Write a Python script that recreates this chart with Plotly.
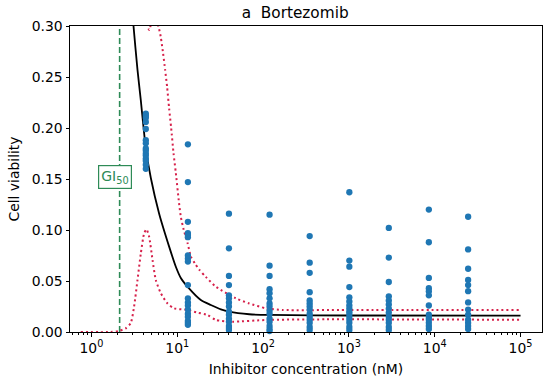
import numpy as np
import plotly.graph_objects as go

# ---------------- data ----------------
conc = [4.3, 13.3, 40.0, 119, 349, 1012, 2917, 8540, 24500]  # nM
viab_c1 = [0.214, 0.212, 0.210, 0.206, 0.199, 0.188, 0.185, 0.180, 0.178, 0.175, 0.173, 0.170, 0.168, 0.164, 0.160]
viab_c2 = [0.184, 0.147, 0.108, 0.097, 0.095, 0.093, 0.075, 0.072, 0.069, 0.046, 0.033, 0.029, 0.026, 0.022, 0.018, 0.015, 0.011, 0.009, 0.007]
viab_c3 = [0.116, 0.082, 0.055, 0.046, 0.036, 0.033, 0.029, 0.025, 0.020, 0.017, 0.013, 0.010, 0.006, 0.004, 0.002]
viab_c4 = [0.115, 0.065, 0.055, 0.042, 0.038, 0.033, 0.028, 0.025, 0.021, 0.018, 0.013, 0.010, 0.006, 0.003, 0.001]
viab_c5 = [0.094, 0.068, 0.058, 0.039, 0.031, 0.028, 0.025, 0.022, 0.018, 0.015, 0.012, 0.009, 0.005, 0.002]
viab_c6 = [0.137, 0.070, 0.064, 0.044, 0.034, 0.030, 0.026, 0.023, 0.020, 0.018, 0.015, 0.012, 0.009, 0.005, 0.002]
viab_c7 = [0.102, 0.073, 0.049, 0.035, 0.031, 0.027, 0.023, 0.019, 0.015, 0.012, 0.009, 0.005, 0.002]
viab_c8 = [0.120, 0.088, 0.053, 0.043, 0.040, 0.036, 0.026, 0.017, 0.014, 0.012, 0.009, 0.006, 0.003]
viab_c9 = [0.113, 0.081, 0.062, 0.051, 0.046, 0.040, 0.029, 0.022, 0.017, 0.012, 0.009, 0.006, 0.003]
viab_groups = [viab_c1, viab_c2, viab_c3, viab_c4, viab_c5, viab_c6, viab_c7, viab_c8, viab_c9]

fit_conc = [2.72, 3.09, 3.44, 3.76, 4.04, 4.30, 4.92, 6.15, 8.04, 9.62, 11.0, 13.3, 18.8, 24.6, 32.2, 40.3, 69.0, 118, 1000, 100000]
fit_viab = [0.36, 0.300, 0.257, 0.227, 0.201, 0.180, 0.151, 0.116, 0.0837, 0.064, 0.053, 0.044, 0.0314, 0.0265, 0.0222, 0.0199, 0.0174, 0.0167, 0.0162, 0.0160]

upper_conc = [3.76, 4.42, 4.72, 5.05, 5.62, 6.10, 6.43, 6.84, 7.22, 7.62, 8.04, 8.49, 9.05, 9.62, 10.5, 11.0, 11.9, 13.2, 14.4, 16.1, 18.1, 21.5, 28.2, 48.2, 69.0, 108, 169, 1000, 100000]
upper_viab = [0.40, 0.302, 0.296, 0.304, 0.306, 0.298, 0.289, 0.273, 0.257, 0.240, 0.219, 0.200, 0.175, 0.156, 0.126, 0.113, 0.100, 0.087, 0.074, 0.067, 0.061, 0.054, 0.0444, 0.033, 0.028, 0.0232, 0.0216, 0.0216, 0.0216]

lower_conc = [0.75, 1.68, 2.08, 2.51, 2.87, 3.14, 3.44, 3.76, 4.11, 4.38, 4.70, 5.15, 5.62, 6.43, 7.70, 9.20, 13.2, 17.2, 22.6, 28.2, 44.2, 108, 541, 100000]
lower_viab = [0.0, 0.0, 0.001, 0.0036, 0.0088, 0.025, 0.051, 0.077, 0.0967, 0.1007, 0.0934, 0.0706, 0.051, 0.038, 0.028, 0.0232, 0.0216, 0.019, 0.0167, 0.0118, 0.0101, 0.0118, 0.0124, 0.0120]

gi50 = 2.13  # nM
title_text = "a  Bortezomib"
x_label = "Inhibitor concentration (nM)"
y_label = "Cell viability"
x_tickvals = [1, 10, 100, 1000, 10000, 100000]
x_ticktext = ["10<sup>0</sup>", "10<sup>1</sup>", "10<sup>2</sup>", "10<sup>3</sup>", "10<sup>4</sup>", "10<sup>5</sup>"]
y_tickvals = [0.00, 0.05, 0.10, 0.15, 0.20, 0.25, 0.30]

# ---------------- figure ----------------
FONT = "DejaVu Sans"
RED = "#d6204a"
GREEN = "#2e8b57"
BLUE = "#1f77b4"

fig = go.Figure()

fig.add_trace(go.Scatter(x=[gi50, gi50], y=[0, 0.30], mode="lines",
                         line=dict(color=GREEN, width=1.6, dash="6px,3px"), hoverinfo="skip"))
fig.add_trace(go.Scatter(x=upper_conc, y=upper_viab, mode="lines",
                         line=dict(color=RED, width=2, dash="2px,3px", shape="spline", smoothing=0.6)))
fig.add_trace(go.Scatter(x=lower_conc, y=lower_viab, mode="lines",
                         line=dict(color=RED, width=2, dash="2px,3px", shape="spline", smoothing=0.6)))
fig.add_trace(go.Scatter(x=fit_conc, y=fit_viab, mode="lines",
                         line=dict(color="black", width=1.8, shape="spline", smoothing=0.6)))

pts_x = []
pts_y = []
for c, grp in zip(conc, viab_groups):
    pts_x += [c] * len(grp)
    pts_y += grp
fig.add_trace(go.Scatter(x=pts_x, y=pts_y, mode="markers",
                         marker=dict(color=BLUE, size=6.3, line=dict(width=0)), cliponaxis=False))

fig.add_annotation(x=np.log10(gi50), y=0.152, xref="x", yref="y", xshift=-5,
                   text="GI<sub>50</sub>", showarrow=False,
                   font=dict(family=FONT, size=14, color=GREEN),
                   bgcolor="white", bordercolor=GREEN, borderwidth=1.2, borderpad=2)

fig.update_layout(
    width=550, height=384,
    margin=dict(l=70, r=8, t=26, b=52),
    paper_bgcolor="white", plot_bgcolor="white",
    showlegend=False,
    font=dict(family=FONT, size=13.9, color="black"),
    title=dict(text=title_text, x=0.477, xref="paper", xanchor="center",
               y=1 - 13 / 384, yref="container", yanchor="middle",
               font=dict(family=FONT, size=15.3, color="black")),
)

fig.update_xaxes(type="log", range=[-0.25, 5.25],
                 tickvals=x_tickvals, ticktext=x_ticktext,
                 ticks="outside", ticklen=3.5, tickwidth=0.8, tickcolor="black",
                 showline=True, linecolor="black", linewidth=1, mirror=True,
                 showgrid=False, zeroline=False,
                 minor=dict(ticks="outside", ticklen=2, tickwidth=0.6, tickcolor="black",
                            tickvals=[m * 10 ** k for k in range(-1, 6) for m in range(2, 10)],
                            showgrid=False),
                 title=dict(text=x_label, standoff=9, font=dict(family=FONT, size=13.9)))
fig.update_yaxes(range=[0, 0.30], tickvals=y_tickvals, tickformat=".2f",
                 ticks="outside", ticklen=3.5, tickwidth=0.8, tickcolor="black",
                 showline=True, linecolor="black", linewidth=1, mirror=True,
                 showgrid=False, zeroline=False,
                 title=dict(text=y_label, standoff=8, font=dict(family=FONT, size=13.9)))

fig.write_html("out.html",
               config={"displayModeBar": False},
               post_script="document.body.style.margin='0px';document.body.style.overflow='hidden';")
